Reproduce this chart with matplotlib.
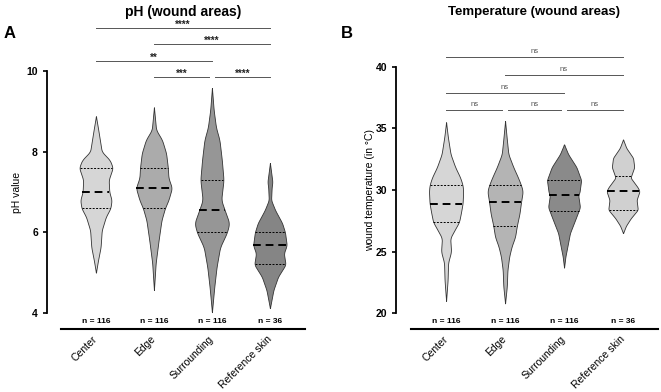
import matplotlib
matplotlib.use("Agg")
import matplotlib.pyplot as plt
import numpy as np

plt.rcParams["font.family"] = ["Liberation Sans", "DejaVu Sans"]

groups = ["Center", "Edge", "Surrounding", "Reference skin"]
n_labels = ["n = 116", "n = 116", "n = 116", "n = 36"]

# violin outlines: y level -> half width (category units)
ph_y = [
    [8.88, 8.54, 8.0, 7.79, 7.6, 7.3, 7.0, 6.8, 6.6, 6.38, 6.05, 5.63, 5.3, 5.0],
    [9.1, 8.54, 8.29, 7.96, 7.6, 7.35, 7.1, 6.8, 6.6, 6.3, 5.8, 5.24, 4.57],
    [9.58, 9.03, 8.6, 8.29, 7.8, 7.3, 6.8, 6.55, 6.23, 6.0, 5.63, 5.14, 4.64, 4.02],
    [7.72, 7.25, 7.12, 6.8, 6.55, 6.23, 6.0, 5.68, 5.48, 5.2, 4.9, 4.57, 4.12],
]
ph_w = [
    [0.0, 0.04, 0.10, 0.24, 0.29, 0.22, 0.23, 0.27, 0.25, 0.17, 0.10, 0.08, 0.035, 0.0],
    [0.0, 0.037, 0.14, 0.21, 0.24, 0.25, 0.31, 0.25, 0.19, 0.13, 0.08, 0.03, 0.0],
    [0.0, 0.03, 0.07, 0.13, 0.17, 0.20, 0.16, 0.22, 0.30, 0.26, 0.14, 0.08, 0.04, 0.0],
    [0.0, 0.043, 0.03, 0.02, 0.09, 0.21, 0.26, 0.29, 0.24, 0.27, 0.14, 0.06, 0.0],
]
ph_med = [7.0, 7.1, 6.55, 5.68]
ph_q1 = [6.6, 6.6, 6.0, 5.22]
ph_q3 = [7.6, 7.6, 7.3, 6.0]
ph_colors = ["#d6d6d6", "#ababab", "#969696", "#858585"]

temp_y = [
    [35.5, 34.3, 32.9, 31.85, 31.0, 30.4, 29.9, 28.9, 28.1, 27.4, 26.8, 26.1, 25.0, 24.1, 22.7, 21.0],
    [35.6, 34.1, 32.9, 31.85, 31.0, 30.4, 29.9, 29.0, 28.1, 27.1, 26.2, 25.4, 24.6, 23.5, 22.2, 20.8],
    [33.7, 32.9, 31.85, 30.8, 29.75, 29.6, 28.6, 27.6, 26.5, 25.4, 24.6, 23.7],
    [34.1, 33.4, 32.6, 31.85, 31.0, 30.2, 29.9, 29.2, 28.4, 27.7, 27.1, 26.5],
]
temp_w = [
    [0.0, 0.03, 0.076, 0.155, 0.24, 0.28, 0.29, 0.28, 0.25, 0.22, 0.15, 0.07, 0.085, 0.034, 0.026, 0.0],
    [0.0, 0.03, 0.056, 0.14, 0.22, 0.27, 0.30, 0.27, 0.245, 0.20, 0.17, 0.11, 0.07, 0.04, 0.03, 0.0],
    [0.0, 0.07, 0.21, 0.29, 0.26, 0.24, 0.27, 0.19, 0.10, 0.056, 0.023, 0.0],
    [0.0, 0.056, 0.17, 0.19, 0.127, 0.25, 0.28, 0.23, 0.25, 0.13, 0.05, 0.0],
]
temp_med = [28.9, 29.0, 29.6, 29.9]
temp_q1 = [27.4, 27.1, 28.3, 28.4]
temp_q3 = [30.4, 30.4, 30.8, 31.1]
temp_colors = ["#d6d6d6", "#b4b4b4", "#8a8a8a", "#d0d0d0"]

# significance brackets: (from, to, level, label)
ph_sig = [(0, 3, 11.07, "****"), (1, 3, 10.67, "****"), (0, 2, 10.25, "**"),
          (1, 1.95, 9.85, "***"), (2.05, 3, 9.85, "****")]
temp_sig = [(0, 3, 40.8, "ns"), (1, 3, 39.35, "ns"), (0, 2, 37.9, "ns"),
            (0, 0.95, 36.5, "ns"), (1.05, 1.95, 36.5, "ns"), (2.05, 3, 36.5, "ns")]


def outline(y, w):
    # smooth the read-off outline a little so it looks like a density curve
    order = np.argsort(y)
    y, w = y[order], w[order]
    fine = np.linspace(y[0], y[-1], 300)
    fw = np.interp(fine, y, w)
    k = np.ones(11) / 11
    sw = np.convolve(np.pad(fw, 5, mode="edge"), k, mode="valid")
    sw[0] = sw[-1] = 0
    return fine, sw


def draw_panel(ax, ys, ws, med, q1, q3, colors, sig, sig_color):
    ax.spines["top"].set_visible(False)
    ax.spines["right"].set_visible(False)
    ax.spines["left"].set_linewidth(1.3)
    ax.spines["bottom"].set_linewidth(1.5)
    ax.spines["bottom"].set_position(("outward", 11.5))
    ax.spines["bottom"].set_bounds(-0.6, 3.6)
    for i in range(len(groups)):
        y, w = outline(np.array(ys[i]), np.array(ws[i]))
        ax.fill_betweenx(y, i - w, i + w, facecolor=colors[i], edgecolor="#333333", linewidth=0.6, zorder=2)
        for val, ls, lw in [(q1[i], (0, (2, 1.5)), 0.7), (q3[i], (0, (2, 1.5)), 0.7), (med[i], (0, (4, 2.5)), 1.4)]:
            hw = np.interp(val, y, w)
            ax.plot([i - hw, i + hw], [val, val], color="black", linestyle=ls, linewidth=lw, zorder=3)
    for a, b, lev, lab in sig:
        ax.plot([a, b], [lev, lev], color="#555555", linewidth=0.7, clip_on=False)
        if "*" in lab:
            ax.text((a + b) / 2, lev - 0.05, lab, ha="center", va="bottom", fontsize=7,
                    color=sig_color, fontweight="bold")
        else:
            ax.text((a + b) / 2, lev + 0.15, lab, ha="center", va="bottom", fontsize=5.5, color=sig_color)
    for i, lab in enumerate(n_labels):
        ax.annotate(lab, xy=(i, 0), xycoords=("data", "axes fraction"), xytext=(0, -6),
                    textcoords="offset points", ha="center", va="center", fontsize=6, fontweight="bold")
    ax.set_xticks(range(len(groups)))
    ax.set_xticklabels(groups, rotation=45, ha="right", va="center", rotation_mode="anchor", fontsize=7.5)
    ax.tick_params(axis="x", length=0, pad=6)
    ax.tick_params(axis="y", length=3, width=1.2, labelsize=7.5)
    for t in ax.get_yticklabels():
        t.set_fontweight("bold")


fig = plt.figure(figsize=(6.61, 3.92), dpi=100)
ax1 = fig.add_axes([0.071, 0.2015, 0.390, 0.6175])
ax2 = fig.add_axes([0.599, 0.2008, 0.398, 0.6292])

ax1.set_xlim(-0.845, 3.6)
ax1.set_ylim(4, 10)
ax1.set_yticks([4, 6, 8, 10])
draw_panel(ax1, ph_y, ph_w, ph_med, ph_q1, ph_q3, ph_colors, ph_sig, "#222222")
ax1.set_ylabel("pH value", fontsize=7.5, labelpad=3)

ax2.set_xlim(-0.85, 3.61)
ax2.set_ylim(20, 40)
ax2.set_yticks([20, 25, 30, 35, 40])
draw_panel(ax2, temp_y, temp_w, temp_med, temp_q1, temp_q3, temp_colors, temp_sig, "#555555")
ax2.set_ylabel("wound temperature (in °C)", fontsize=7.5, labelpad=0)

fig.text(183 / 661, 1 - 12 / 392, "pH (wound areas)", ha="center", va="center", fontsize=10, fontweight="bold")
fig.text(534 / 661, 1 - 12 / 392, "Temperature (wound areas)", ha="center", va="center", fontsize=9.5, fontweight="bold")
fig.text(10 / 661, 1 - 33 / 392, "A", ha="center", va="center", fontsize=12, fontweight="bold")
fig.text(347 / 661, 1 - 33 / 392, "B", ha="center", va="center", fontsize=12, fontweight="bold")

fig.savefig("out.png", dpi=100)
